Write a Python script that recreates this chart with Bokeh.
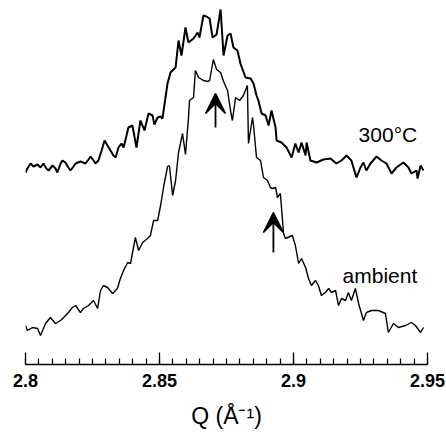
from bokeh.plotting import figure
from bokeh.models import (ColumnDataSource, FixedTicker, CustomJSTickFormatter,
                          Range1d, Arrow, VeeHead)
from bokeh.core.properties import value
from bokeh.embed import file_html
from bokeh.resources import INLINE

# ---- data (Q in 1/Angstrom, intensity in arbitrary units) ----
q_300 = [2.8000, 2.8007, 2.8019, 2.8030, 2.8045, 2.8056, 2.8067, 2.8078, 2.8086, 2.8101,
         2.8112, 2.8119, 2.8131, 2.8138, 2.8149, 2.8160, 2.8168, 2.8179, 2.8187, 2.8205,
         2.8224, 2.8235, 2.8243, 2.8254, 2.8261, 2.8272, 2.8284, 2.8295, 2.8306, 2.8317,
         2.8328, 2.8336, 2.8347, 2.8358, 2.8366, 2.8377, 2.8384, 2.8399, 2.8414, 2.8429,
         2.8444, 2.8459, 2.8474, 2.8481, 2.8493, 2.8504, 2.8511, 2.8530, 2.8541,
         2.8552, 2.8560, 2.8571, 2.8582, 2.8597, 2.8608, 2.8627, 2.8642, 2.8649, 2.8664,
         2.8675, 2.8687, 2.8698, 2.8713, 2.8728, 2.8739, 2.8754, 2.8765, 2.8776, 2.8791,
         2.8802, 2.8821, 2.8840, 2.8851, 2.8862, 2.8869, 2.8881, 2.8896, 2.8907, 2.8918,
         2.8933, 2.8937, 2.8955, 2.8974, 2.8993, 2.9007, 2.9019, 2.9030, 2.9045, 2.9049,
         2.9063, 2.9086, 2.9112, 2.9138, 2.9160, 2.9179, 2.9198, 2.9216, 2.9235, 2.9250,
         2.9261, 2.9272, 2.9287, 2.9310, 2.9328, 2.9347, 2.9366, 2.9384, 2.9410, 2.9429,
         2.9440, 2.9459, 2.9463, 2.9474, 2.9485]
i_300 = [192, 196, 201, 198, 200, 197, 201, 196, 194, 199,
         196, 192, 201, 204, 202, 197, 194, 198, 201, 203,
         201, 205, 208, 204, 201, 204, 214, 224, 219, 214,
         209, 207, 217, 221, 217, 229, 237, 239, 217, 244,
         234, 251, 249, 240, 247, 248, 246, 281, 292,
         295, 297, 324, 309, 337, 322, 326, 332, 327, 349,
         348, 346, 327, 330, 355, 309, 329, 331, 317, 314,
         301, 287, 286, 281, 269, 264, 251, 249, 239, 254,
         237, 224, 222, 217, 207, 221, 212, 222, 209, 222,
         204, 202, 205, 206, 201, 204, 209, 204, 187, 197,
         202, 194, 201, 208, 204, 201, 191, 197, 202, 197,
         191, 194, 186, 199, 194]

q_amb = [2.8000, 2.8007, 2.8026, 2.8045, 2.8056, 2.8075, 2.8093, 2.8112, 2.8131, 2.8146,
         2.8157, 2.8175, 2.8187, 2.8205, 2.8216, 2.8235, 2.8254, 2.8269, 2.8280, 2.8291,
         2.8306, 2.8325, 2.8343, 2.8354, 2.8366, 2.8381, 2.8392, 2.8410, 2.8422, 2.8437,
         2.8455, 2.8466, 2.8478, 2.8493, 2.8504, 2.8515, 2.8530, 2.8537, 2.8549, 2.8560,
         2.8571, 2.8586, 2.8597, 2.8608, 2.8612, 2.8627, 2.8634, 2.8646, 2.8664, 2.8679,
         2.8687, 2.8701, 2.8713, 2.8728, 2.8739, 2.8754, 2.8765, 2.8772, 2.8784, 2.8799,
         2.8813, 2.8828, 2.8832, 2.8847, 2.8851, 2.8862, 2.8877, 2.8888, 2.8903, 2.8914,
         2.8922, 2.8933, 2.8940, 2.8951, 2.8963, 2.8970, 2.8996, 2.9007, 2.9019, 2.9030,
         2.9045, 2.9056, 2.9067, 2.9082, 2.9093, 2.9104, 2.9119, 2.9131, 2.9142, 2.9157,
         2.9168, 2.9179, 2.9194, 2.9205, 2.9216, 2.9231, 2.9243, 2.9261, 2.9272, 2.9291,
         2.9317, 2.9343, 2.9354, 2.9373, 2.9392, 2.9418, 2.9440, 2.9455, 2.9474, 2.9485]
i_amb = [39, 34, 37, 36, 29, 41, 47, 41, 44, 48,
         51, 57, 59, 52, 56, 59, 64, 56, 74, 79,
         77, 71, 76, 86, 94, 102, 101, 127, 114, 122,
         126, 129, 144, 144, 159, 177, 198, 199, 169, 184,
         212, 231, 210, 246, 264, 267, 294, 287, 284, 283,
         284, 305, 295, 292, 283, 274, 254, 244, 267, 264,
         269, 279, 221, 247, 239, 207, 204, 187, 184, 177,
         176, 177, 167, 171, 131, 126, 129, 119, 101, 106,
         97, 86, 79, 84, 79, 69, 72, 76, 72, 74,
         59, 66, 64, 72, 64, 76, 61, 44, 52, 54,
         54, 51, 32, 41, 37, 39, 42, 39, 32, 37]

# peak markers (arrows): position, stem start, tip
arrow_q = [2.8709, 2.8925]
arrow_base = [237, 112]
arrow_tip = [271, 152]

# curve labels
label_text = ["300°C", "ambient"]
label_q = [2.9243, 2.9183]
label_i = [230, 89]

major_ticks = [2.80, 2.85, 2.90, 2.95]
tick_labels = ["2.8", "2.85", "2.9", "2.95"]
minor_ticks = [round(2.80 + 0.005 * k, 3) for k in range(31)]

FONT = "Liberation Sans"

p = figure(width=446, height=437, output_backend="svg", toolbar_location=None,
           x_range=Range1d(2.80, 2.95), y_range=Range1d(0, 356),
           min_border_left=25, min_border_right=19, min_border_top=8,
           min_border_bottom=73)
p.outline_line_color = None
p.grid.visible = False
p.yaxis.visible = False
p.background_fill_color = "white"
p.border_fill_color = "white"

p.line(q_300, i_300, line_color="black", line_width=2.0)
p.line(q_amb, i_amb, line_color="black", line_width=1.4)

for q, b, t in zip(arrow_q, arrow_base, arrow_tip):
    p.add_layout(Arrow(end=VeeHead(size=20, fill_color="black", line_color="black",
                                   line_width=1.5),
                       x_start=q, y_start=b, x_end=q, y_end=t,
                       line_color="black", line_width=1.8))

lab = ColumnDataSource(dict(x=label_q, y=label_i, t=label_text))
p.text(x="x", y="y", text="t", source=lab, text_font=value(FONT),
       text_font_size="21px", text_color="black", text_baseline="alphabetic",
       text_align="left")

ax = p.xaxis[0]
ax.ticker = FixedTicker(ticks=major_ticks, minor_ticks=minor_ticks)
ax.formatter = CustomJSTickFormatter(args=dict(majors=major_ticks, names=tick_labels), code="""
    for (let k = 0; k < majors.length; k++) {
        if (Math.abs(majors[k] - tick) < 1e-9) { return names[k]; }
    }
    return "";
""")
ax.axis_line_color = "black"
ax.axis_line_width = 1.5
ax.major_tick_line_color = "black"
ax.major_tick_line_width = 1.3
ax.minor_tick_line_color = "black"
ax.minor_tick_line_width = 1.2
ax.major_tick_in = 12
ax.major_tick_out = 0
ax.minor_tick_in = 6
ax.minor_tick_out = 0
ax.major_label_standoff = 9
ax.major_label_text_font = FONT
ax.major_label_text_font_size = "18px"
ax.major_label_text_font_style = "bold"
ax.major_label_text_color = "black"
ax.axis_label = "Q (Å⁻¹)"
ax.axis_label_text_font = FONT
ax.axis_label_text_font_size = "23px"
ax.axis_label_text_font_style = "normal"
ax.axis_label_text_color = "black"
ax.axis_label_standoff = 13

open("out.html", "w").write(file_html(p, INLINE))
